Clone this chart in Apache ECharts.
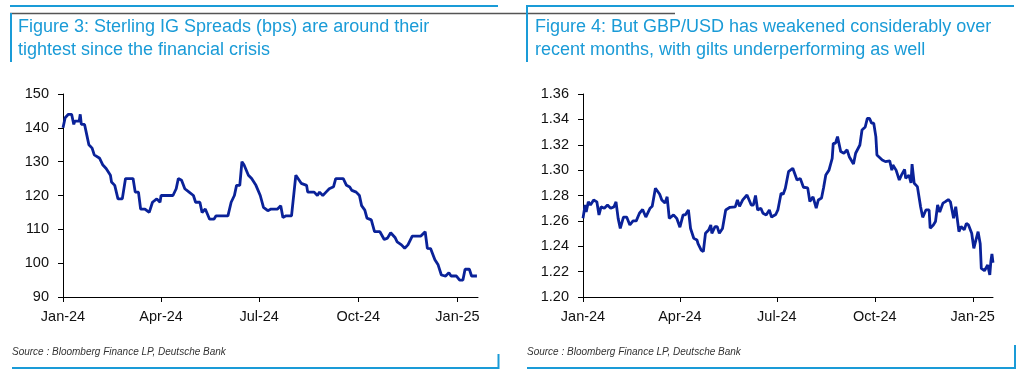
<!DOCTYPE html>
<html>
<head>
<meta charset="utf-8">
<script src="https://cdn.jsdelivr.net/npm/echarts@6/dist/echarts.min.js"></script>
<style>
html,body{margin:0;padding:0;background:#fff;}
#c{width:1024px;height:380px;}
</style>
</head>
<body>
<div id="c"></div>
<script>
// ---- Data ----
const tickDates = ['2024-01-01','2024-04-01','2024-07-01','2024-10-01','2025-01-01'];
const tickLabels = ['Jan-24','Apr-24','Jul-24','Oct-24','Jan-25'];

const spreadDates = ['2024-01-01','2024-01-03','2024-01-06','2024-01-09','2024-01-11','2024-01-12','2024-01-16','2024-01-17','2024-01-18','2024-01-21','2024-01-23','2024-01-25','2024-01-28','2024-01-30','2024-02-04','2024-02-07','2024-02-10','2024-02-14','2024-02-15','2024-02-18','2024-02-21','2024-02-25','2024-02-28','2024-03-06','2024-03-08','2024-03-11','2024-03-13','2024-03-17','2024-03-21','2024-03-24','2024-03-28','2024-03-31','2024-04-01','2024-04-12','2024-04-15','2024-04-17','2024-04-20','2024-04-23','2024-04-27','2024-05-01','2024-05-03','2024-05-07','2024-05-09','2024-05-12','2024-05-16','2024-05-20','2024-05-22','2024-06-02','2024-06-05','2024-06-08','2024-06-10','2024-06-13','2024-06-15','2024-06-17','2024-06-21','2024-06-24','2024-06-28','2024-07-02','2024-07-05','2024-07-09','2024-07-12','2024-07-18','2024-07-21','2024-07-23','2024-07-26','2024-07-31','2024-08-04','2024-08-09','2024-08-14','2024-08-15','2024-08-21','2024-08-24','2024-08-26','2024-08-29','2024-09-01','2024-09-04','2024-09-08','2024-09-10','2024-09-17','2024-09-20','2024-09-23','2024-09-25','2024-09-29','2024-10-02','2024-10-04','2024-10-07','2024-10-09','2024-10-13','2024-10-16','2024-10-21','2024-10-25','2024-10-28','2024-10-31','2024-11-04','2024-11-06','2024-11-10','2024-11-13','2024-11-16','2024-11-20','2024-11-28','2024-12-02','2024-12-04','2024-12-07','2024-12-11','2024-12-14','2024-12-17','2024-12-21','2024-12-24','2024-12-26','2024-12-31','2025-01-03','2025-01-06','2025-01-08','2025-01-12','2025-01-14','2025-01-19'];
const spreadValues = [140,143,144,144,141,142,142,144,141,141,138,135,134,132,131,129,128,126,124,123,119,119,125,125,121,121,116,116,115,118,119,118,120,120,122,125,124.5,122,121,120,118,118,115,116,113,113,114,114,118,120,123,123,130,129,126,125,123,120,116.5,115.5,116,116,117,113.5,114,114,126,123.6,123,121,121,120,121,120,121,122,122.6,125,125,123,122.5,121.5,121,120,117,115.7,113.3,112.8,109.3,109.3,107,107.4,109,107.6,106.3,105.4,104.4,105.4,108,108,109.3,104.4,104.3,101,99.5,96.5,96.2,97.2,96.2,96.2,95,95,98.2,98.2,96.2,96.2];

const fxDates = ['2024-01-01','2024-01-03','2024-01-04','2024-01-06','2024-01-08','2024-01-11','2024-01-14','2024-01-16','2024-01-18','2024-01-21','2024-01-24','2024-01-27','2024-01-30','2024-02-01','2024-02-03','2024-02-05','2024-02-08','2024-02-11','2024-02-14','2024-02-17','2024-02-20','2024-02-23','2024-02-26','2024-02-29','2024-03-04','2024-03-06','2024-03-09','2024-03-13','2024-03-15','2024-03-18','2024-03-20','2024-03-22','2024-03-26','2024-03-29','2024-04-01','2024-04-04','2024-04-06','2024-04-09','2024-04-11','2024-04-14','2024-04-17','2024-04-18','2024-04-21','2024-04-23','2024-04-25','2024-04-28','2024-04-30','2024-05-01','2024-05-04','2024-05-06','2024-05-08','2024-05-11','2024-05-14','2024-05-18','2024-05-23','2024-05-25','2024-05-27','2024-05-30','2024-06-03','2024-06-05','2024-06-07','2024-06-09','2024-06-11','2024-06-13','2024-06-16','2024-06-18','2024-06-21','2024-06-24','2024-06-26','2024-06-30','2024-07-02','2024-07-05','2024-07-07','2024-07-09','2024-07-12','2024-07-16','2024-07-20','2024-07-23','2024-07-26','2024-07-30','2024-08-01','2024-08-04','2024-08-07','2024-08-09','2024-08-12','2024-08-14','2024-08-16','2024-08-19','2024-08-22','2024-08-23','2024-08-25','2024-08-27','2024-08-30','2024-09-02','2024-09-05','2024-09-07','2024-09-11','2024-09-13','2024-09-17','2024-09-19','2024-09-22','2024-09-24','2024-09-26','2024-09-28','2024-09-30','2024-10-02','2024-10-03','2024-10-08','2024-10-11','2024-10-15','2024-10-17','2024-10-18','2024-10-21','2024-10-24','2024-10-26','2024-10-29','2024-10-30','2024-11-02','2024-11-04','2024-11-05','2024-11-07','2024-11-10','2024-11-12','2024-11-13','2024-11-15','2024-11-18','2024-11-21','2024-11-22','2024-11-25','2024-11-27','2024-11-29','2024-12-01','2024-12-04','2024-12-06','2024-12-09','2024-12-11','2024-12-14','2024-12-16','2024-12-19','2024-12-21','2024-12-24','2024-12-26','2024-12-28','2024-12-31','2025-01-02','2025-01-04','2025-01-06','2025-01-08','2025-01-09','2025-01-12','2025-01-15','2025-01-17','2025-01-18','2025-01-19','2025-01-20'];
const fxValues = [1.262,1.2725,1.267,1.275,1.2725,1.2765,1.275,1.2647,1.271,1.270,1.2725,1.270,1.271,1.275,1.262,1.254,1.263,1.263,1.2568,1.260,1.260,1.266,1.269,1.263,1.270,1.2715,1.2857,1.281,1.2765,1.274,1.279,1.262,1.2647,1.262,1.255,1.2647,1.2647,1.2686,1.254,1.2463,1.245,1.242,1.237,1.2357,1.2502,1.2528,1.2568,1.2502,1.2555,1.2555,1.2502,1.254,1.2686,1.2707,1.271,1.2765,1.2715,1.2765,1.2804,1.2765,1.2725,1.2725,1.280,1.2686,1.270,1.266,1.2647,1.2686,1.263,1.265,1.2686,1.2817,1.281,1.2857,1.2988,1.3015,1.2922,1.2935,1.2865,1.286,1.2752,1.279,1.270,1.2765,1.278,1.2865,1.2962,1.300,1.3093,1.3211,1.3211,1.3264,1.3146,1.3133,1.316,1.3106,1.3048,1.3133,1.3198,1.3316,1.334,1.3408,1.3408,1.337,1.337,1.3264,1.3119,1.308,1.3067,1.3073,1.300,1.304,1.300,1.2922,1.296,1.3006,1.2935,1.296,1.290,1.3048,1.2896,1.287,1.2765,1.2712,1.2628,1.2686,1.2686,1.2542,1.2568,1.2595,1.2725,1.267,1.274,1.275,1.2768,1.275,1.262,1.2712,1.2515,1.2555,1.253,1.258,1.2568,1.2502,1.2384,1.245,1.2515,1.242,1.2226,1.2207,1.2252,1.2174,1.228,1.234,1.227];

const title1 = 'Figure 3: Sterling IG Spreads (bps) are around their\ntightest since the financial crisis';
const title2 = 'Figure 4: But GBP/USD has weakened considerably over\nrecent months, with gilts underperforming as well';
const sourceText = 'Source : Bloomberg Finance LP, Deutsche Bank';

// ---- Helpers ----
function ts(s){ const p = s.split('-').map(Number); return Date.UTC(p[0], p[1]-1, p[2]); }
const tickTs = tickDates.map(ts);
function fmtTick(v){ const i = tickTs.indexOf(v); return i >= 0 ? tickLabels[i] : ''; }

const BLUE = '#1a9bd7';
const LINE = '#0a2299';
const FONT = 'Liberation Sans, Arial, sans-serif';

function xAxis(gi){
  return {
    type:'value', gridIndex:gi, min:ts('2024-01-01'), max:ts('2025-01-20'),
    axisLine:{show:true, onZero:false, lineStyle:{color:'#000', width:1}},
    axisTick:{show:true, customValues:tickTs, length:5, lineStyle:{color:'#000'}},
    axisLabel:{customValues:tickTs, formatter:fmtTick, color:'#111', fontSize:14.5, fontFamily:FONT, margin:12},
    splitLine:{show:false}
  };
}
function yAxis(gi, min, max, interval, dec){
  return {
    type:'value', gridIndex:gi, min:min, max:max, interval:interval,
    axisLine:{show:true, onZero:false, lineStyle:{color:'#000', width:1}},
    axisTick:{show:true, length:5, lineStyle:{color:'#000'}},
    axisLabel:{color:'#111', fontSize:14.5, fontFamily:FONT, margin:14,
      formatter:function(v){ return v.toFixed(dec); }},
    splitLine:{show:false}
  };
}

const chart = echarts.init(document.getElementById('c'), null, {renderer:'canvas'});
chart.setOption({
  animation:false,
  backgroundColor:'#fff',
  grid:[
    {left:63, top:94, width:415, height:203},
    {left:583, top:94, width:410, height:203}
  ],
  xAxis:[xAxis(0), xAxis(1)],
  yAxis:[yAxis(0, 90, 150, 10, 0), yAxis(1, 1.20, 1.36, 0.02, 2)],
  series:[
    {type:'line', xAxisIndex:0, yAxisIndex:0, showSymbol:false, symbol:'none',
     lineStyle:{color:LINE, width:2.8}, data:spreadDates.map((d,i)=>[ts(d), spreadValues[i]])},
    {type:'line', xAxisIndex:1, yAxisIndex:1, showSymbol:false, symbol:'none',
     lineStyle:{color:LINE, width:2.8}, data:fxDates.map((d,i)=>[ts(d), fxValues[i]])}
  ],
  graphic:[
    {type:'line', shape:{x1:10, y1:6, x2:498, y2:6}, style:{stroke:BLUE, lineWidth:2}},
    {type:'line', shape:{x1:10, y1:13.5, x2:675, y2:13.5}, style:{stroke:'#555', lineWidth:1.5}},
    {type:'line', shape:{x1:11, y1:13, x2:11, y2:62}, style:{stroke:BLUE, lineWidth:2}},
    {type:'line', shape:{x1:526, y1:6, x2:1014, y2:6}, style:{stroke:BLUE, lineWidth:2}},
    {type:'line', shape:{x1:527, y1:6, x2:527, y2:62}, style:{stroke:BLUE, lineWidth:2}},
    {type:'text', left:18, top:16, style:{text:title1, fill:BLUE, font:'18px '+FONT, lineHeight:23}},
    {type:'text', left:535, top:16, style:{text:title2, fill:BLUE, font:'18px '+FONT, lineHeight:23}},
    {type:'text', left:12, top:347, style:{text:sourceText, fill:'#333', font:'italic 10px '+FONT}},
    {type:'text', left:527, top:347, style:{text:sourceText, fill:'#333', font:'italic 10px '+FONT}},
    {type:'line', shape:{x1:12, y1:368, x2:499, y2:368}, style:{stroke:BLUE, lineWidth:2}},
    {type:'line', shape:{x1:498.5, y1:354, x2:498.5, y2:369}, style:{stroke:BLUE, lineWidth:2}},
    {type:'line', shape:{x1:527, y1:368, x2:1016, y2:368}, style:{stroke:BLUE, lineWidth:2}},
    {type:'line', shape:{x1:1015, y1:345, x2:1015, y2:369}, style:{stroke:BLUE, lineWidth:2}}
  ]
});
</script>
</body>
</html>
